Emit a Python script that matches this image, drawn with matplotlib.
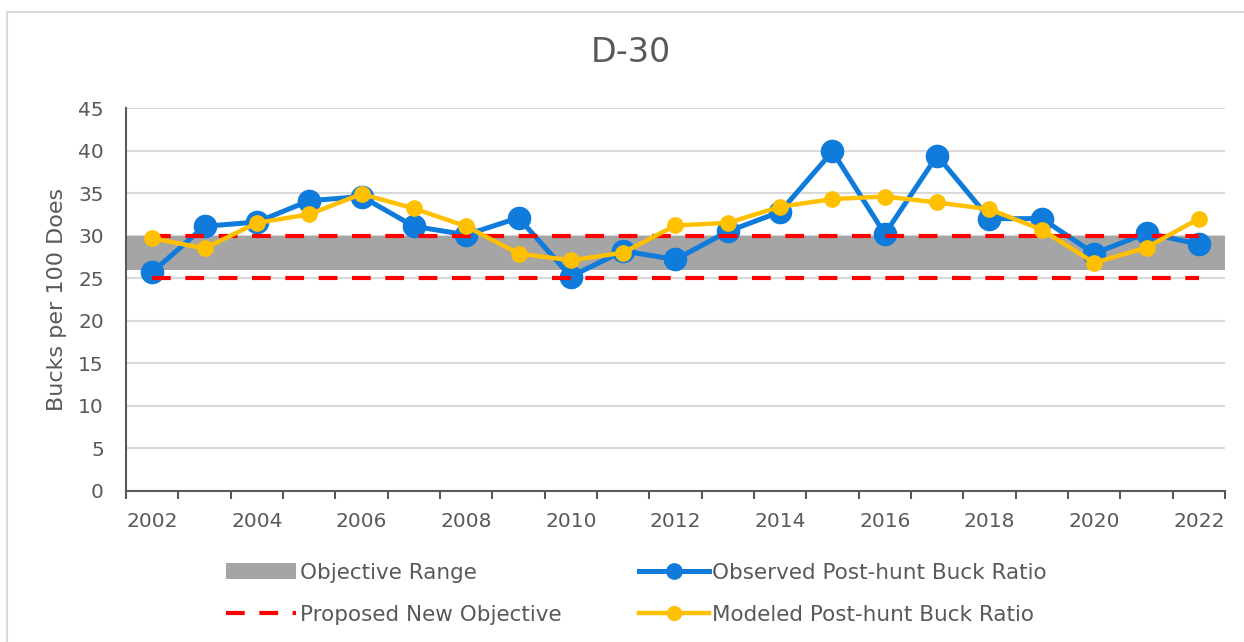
import matplotlib
matplotlib.use("Agg")
import matplotlib.pyplot as plt
from matplotlib.lines import Line2D
from matplotlib.patches import Patch, Rectangle
import numpy as np

# data
years = list(range(2002, 2023))
observed = [25.7, 31.1, 31.6, 34.1, 34.6, 31.1, 30.1, 32.1, 25.2, 28.2, 27.2,
            30.5, 32.8, 39.9, 30.2, 39.4, 32.0, 32.0, 27.9, 30.3, 29.0]
modeled = [29.7, 28.5, 31.5, 32.5, 34.9, 33.2, 31.1, 27.9, 27.1, 28.0, 31.2,
           31.5, 33.4, 34.3, 34.6, 33.9, 33.1, 30.7, 26.8, 28.6, 32.0]
objective_low, objective_high = 26, 30
proposed_low, proposed_high = 25, 30

txt = "#595959"
blue = "#0F7BDB"
yellow = "#FFC000"
red = "#FF0000"
gray = "#A5A5A5"

plt.rcParams['font.family'] = ['DejaVu Sans']

W, H = 1244, 642
fig = plt.figure(figsize=(W / 100, H / 100), dpi=100)
fig.patch.set_facecolor("white")

# outer chart border (only left/top edges visible in the crop)
fig.patches.append(Rectangle((7 / W, -0.1), 1.2, 1 - 12 / H + 0.1, transform=fig.transFigure,
                             fill=False, edgecolor="#D9D9D9", linewidth=1.5))

ax = fig.add_axes([126 / W, 1 - 491 / H, (1225 - 126) / W, (491 - 108) / H])
x = np.arange(len(years))

ax.fill_between([-0.5, len(years) - 0.5], objective_low, objective_high,
                color=gray, linewidth=0, zorder=1)
ax.plot(x, observed, color=blue, lw=3.6, marker="o", markersize=16, zorder=3)
ax.plot(x, [proposed_high] * len(x), color=red, lw=3, dashes=(4.5, 3.5), zorder=4)
ax.plot(x, [proposed_low] * len(x), color=red, lw=3, dashes=(4.5, 3.5), zorder=4)
ax.plot(x, modeled, color=yellow, lw=3.2, marker="o", markersize=11, zorder=5)

ax.set_xlim(-0.5, len(years) - 0.5)
ax.set_ylim(0, 45)
ax.set_yticks(range(0, 46, 5))
ax.yaxis.grid(True, color="#D9D9D9", linewidth=1.5, zorder=0)
ax.set_axisbelow(True)

ax.set_xticks(x[::2])
ax.set_xticklabels([str(y) for y in years[::2]])
ax.set_xticks(np.arange(-0.5, len(years), 1), minor=True)
ax.tick_params(axis="x", which="major", length=0, pad=15, labelsize=14.5, labelcolor=txt)
ax.tick_params(axis="x", which="minor", length=6, width=1.5, color=txt)
ax.tick_params(axis="y", length=0, pad=16, labelsize=14.5, labelcolor=txt)

for s in ["top", "right"]:
    ax.spines[s].set_visible(False)
for s in ["left", "bottom"]:
    ax.spines[s].set_color(txt)
    ax.spines[s].set_linewidth(1.5)

ax.set_ylabel("Bucks per 100 Does", fontsize=16, color=txt, labelpad=8)

fig.text(631 / W, 1 - 53 / H, "D-30", ha="center", va="center", fontsize=24, color=txt)

handles = [
    Patch(facecolor=gray, edgecolor="none"),
    Line2D([], [], color=red, lw=3, dashes=(4.5, 3.5)),
    Line2D([], [], color=blue, lw=3.6, marker="o", markersize=11),
    Line2D([], [], color=yellow, lw=3.2, marker="o", markersize=10),
]
labels = ["Objective Range", "Proposed New Objective",
          "Observed Post-hunt Buck Ratio", "Modeled Post-hunt Buck Ratio"]
fig.legend(handles, labels, ncol=2, loc="center left",
           bbox_to_anchor=(207 / W, 1 - 594 / H), frameon=False,
           fontsize=15.5, labelcolor=txt, handlelength=3.25, handletextpad=0.15,
           columnspacing=3.6, labelspacing=1.05, handleheight=0.8)

fig.savefig("out.png", dpi=100)
